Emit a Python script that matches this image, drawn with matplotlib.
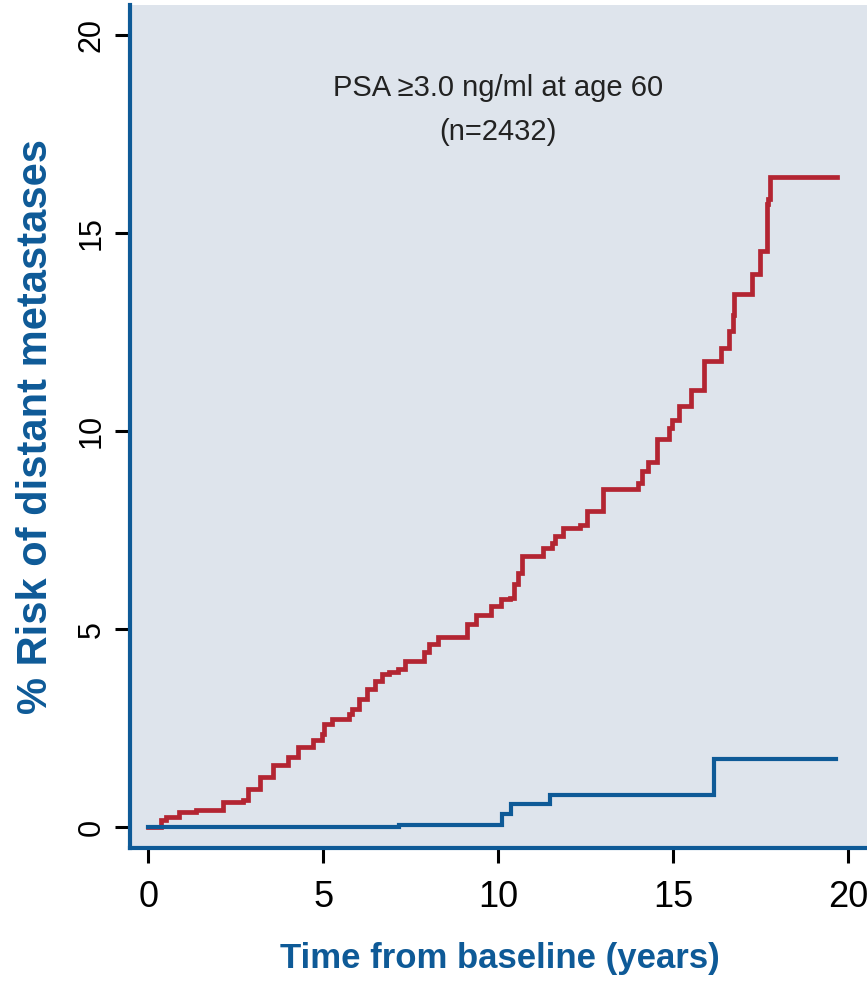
import matplotlib
matplotlib.use("Agg")
import matplotlib.pyplot as plt

# cumulative risk curves (years, % risk), step changes
red_t = [0, 0.36, 0.5, 0.89, 1.37, 2.14, 2.71, 2.85, 3.19, 3.55, 4.0, 4.29, 4.72, 4.96,
         5.01, 5.25, 5.73, 5.82, 6.02, 6.26, 6.49, 6.69, 6.88, 7.12, 7.33, 7.88, 8.03,
         8.27, 9.11, 9.37, 9.80, 10.07, 10.33, 10.45, 10.55, 10.68, 11.28, 11.52, 11.62,
         11.84, 12.34, 12.53, 12.98, 14.0, 14.09, 14.28, 14.52, 14.88, 14.97, 15.16,
         15.5, 15.88, 16.36, 16.58, 16.7, 16.74, 17.25, 17.46, 17.67, 17.7, 17.77, 19.66]
red_v = [0, 0.18, 0.25, 0.39, 0.43, 0.64, 0.68, 0.97, 1.27, 1.56, 1.77, 2.02, 2.19, 2.35,
         2.59, 2.73, 2.86, 2.98, 3.23, 3.49, 3.70, 3.86, 3.91, 3.99, 4.2, 4.41, 4.62,
         4.79, 5.12, 5.36, 5.58, 5.75, 5.79, 6.13, 6.42, 6.84, 7.05, 7.17, 7.35,
         7.55, 7.64, 7.97, 8.54, 8.68, 8.98, 9.23, 9.79, 10.07, 10.28, 10.64,
         11.03, 11.76, 12.1, 12.54, 12.92, 13.47, 13.97, 14.54, 15.73, 15.85, 16.42, 16.42]

blue_t = [0, 7.17, 10.09, 10.35, 11.48, 16.16, 19.64]
blue_v = [0, 0.04, 0.34, 0.58, 0.82, 1.71, 1.71]

x_ticks = [0, 5, 10, 15, 20]
y_ticks = [0, 5, 10, 15, 20]

BG = "#dee4ec"
RED = "#b32532"
BLUE = "#0e5a97"
FONT = ["Liberation Sans", "DejaVu Sans"]

fig = plt.figure(figsize=(8.67, 9.83), dpi=100)
ax = fig.add_axes([0.15, 0.1373, 0.85, 0.8576])
ax.set_facecolor(BG)

ax.step(red_t, red_v, where="post", color=RED, lw=3.4, solid_joinstyle="miter")
ax.step(blue_t, blue_v, where="post", color=BLUE, lw=3.0, solid_joinstyle="miter")

ax.set_xlim(-0.52, 20.53)
ax.set_ylim(-0.53, 20.76)
ax.set_xticks(x_ticks)
ax.set_yticks(y_ticks)

for s in ["top", "right"]:
    ax.spines[s].set_visible(False)
for s in ["left", "bottom"]:
    ax.spines[s].set_color(BLUE)
    ax.spines[s].set_linewidth(3)

ax.tick_params(axis="both", direction="out", length=11, width=2.2, color="black")
ax.tick_params(axis="x", pad=12, labelsize=26)
ax.tick_params(axis="y", pad=6, labelsize=22)
for lab in ax.get_xticklabels():
    lab.set_family(FONT)
for lab in ax.get_yticklabels():
    lab.set_family(FONT)
    lab.set_rotation(90)
    lab.set_va("center")

ax.set_xlabel("Time from baseline (years)", fontsize=25, fontweight="bold",
              color=BLUE, family=FONT)
ax.xaxis.set_label_coords(0.502, -0.112)
ax.set_ylabel("% Risk of distant metastases", fontsize=30, fontweight="bold",
              color=BLUE, family=FONT)
ax.yaxis.set_label_coords(-0.1, 0.5)

ax.text(10, 18.45, "PSA \u22653.0 ng/ml at age 60", ha="center", va="baseline",
        fontsize=21, family=FONT, color="#222222")
ax.text(10, 17.35, "(n=2432)", ha="center", va="baseline",
        fontsize=21, family=FONT, color="#222222")

fig.savefig("out.png", dpi=100, facecolor="white")
